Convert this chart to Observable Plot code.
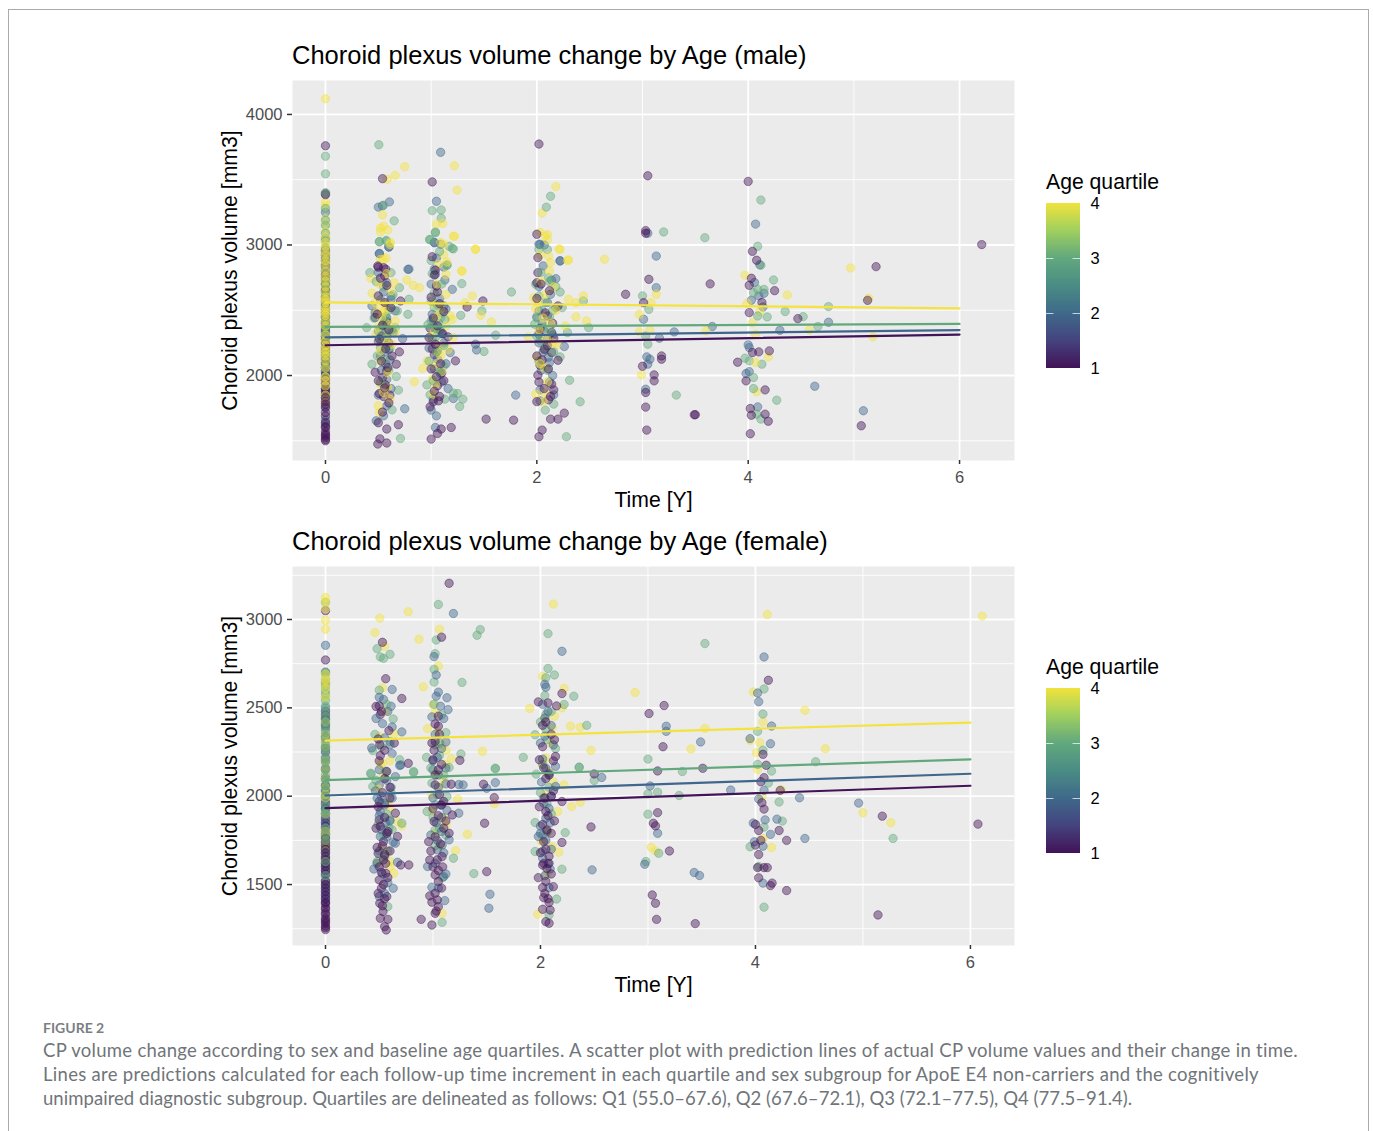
<!DOCTYPE html>
<html><head><meta charset="utf-8">
<script src="https://cdn.jsdelivr.net/npm/d3@7"></script>
<script src="https://cdn.jsdelivr.net/npm/@observablehq/plot@0.6"></script>
<style>
html,body{margin:0;padding:0;background:#fff;width:1373px;height:1131px;overflow:hidden;position:relative}
#border{position:absolute;left:8px;top:9px;width:1361px;height:1140px;border:1.5px solid #ababab;box-sizing:border-box}
.abs{position:absolute}
.title{font:25.5px "Liberation Sans",sans-serif;color:#000;left:292px;white-space:nowrap}
.ltitle{font:21.2px "Liberation Sans",sans-serif;color:#000;left:1046px;white-space:nowrap}
#cap{left:43px;top:1018px;width:1290px;font-family:Lato,sans-serif;color:#707579}
#cap .fig{font-size:14px;font-weight:700;line-height:20px;color:#7a7f83}
#cap .txt{font-size:18.5px;line-height:24px;white-space:nowrap;letter-spacing:.3px}
#cap .l3{letter-spacing:.05px}
svg text{font-family:"Liberation Sans",sans-serif}
</style></head><body>
<div id="border"></div>
<div id="root"></div>
<script>
// ---- male: baseline volumes (time 0) per age quartile
const maleBaseQ1=[3760,3395,3385,2960,2920,2880,2840,2800,2760,2730,2700,2660,2640,2600,2570,2540,2510,2480,2450,2413,2380,2350,2330,2300,2278,2250,2214,2190,2160,2120,2090,2060,2030,2000,1972,1940,1900,1880,1857,1830,1800,1780,1760,1717,1690,1640,1610,1600,1570,1551,1540,1526,1510,1500];
const maleBaseQ2=[3250,3050,2950,2900,2850,2775,2700,2650,2600,2550,2500,2450,2400,2350,2300,2240,2180,2140,2100,2060,2020,1960,1900,1830,1750,1660,1628];
const maleBaseQ3=[3680,3545,3400,3280,3190,3150,3090,3030,2980,2930,2880,2820,2750,2710,2690,2648,2610,2571,2530,2482,2440,2400,2367,2340,2316,2280,2210,2176,2160,2138,2099,2070,2040,1990,1920,1880,1850];
const maleBaseQ4=[4120,3330,3300,3200,3150,3100,3060,3020,2990,2950,2920,2880,2850,2800,2760,2724,2680,2640,2600,2580,2560,2520,2500,2482,2460,2420,2380,2310,2265,2230,2200,2176,2150,2112,2060,1990,1960,1920,1850,1793];
// ---- male: follow-up [time, volume]
const maleQ1=[[.54,3508],[.5,2830],[.57,2815],[.495,2839],[.55,2826],[.56,2762],[.71,2571],[.47,2444],[.58,2413],[.53,2300],[.6,2250],[.7,2181],[.67,2087],[.47,2025],[.54,1985],[.58,2036],[.565,1929],[.51,1862],[.55,1839],[.61,1850],[.5,1638],[.69,1623],[.58,1590],[.515,1515],[.495,1475],[.58,1483],
[.52,2745],[.58,2690],[.5,2610],[.56,2560],[.62,2520],[.49,2470],[.54,2385],[.6,2350],[.51,2280],[.57,2205],[.63,2150],[.53,2110],[.59,2060],[.5,1960],[.56,1905],[.6,1790],[.54,1720],
[1.01,3483],[1.01,2910],[1.04,2806],[1.05,2686],[1.06,2640],[1.49,2571],[1.34,2525],[.99,2362],[1.16,2296],[1.01,2204],[1.03,2160],[1.23,2112],[1.06,1921],[1.02,1799],[1.07,1806],[1.52,1666],[1.78,1658],[1.19,1602],[1.095,1590],[1.06,1556],[1,1513],[1.1,2020],
[1.03,2770],[1,2600],[1.08,2550],[1.12,2490],[1.02,2440],[1.06,2380],[1.11,2320],[.98,2290],[1.04,2240],[1.09,2090],[1,2050],[1.05,1990],[1.12,1960],[1.03,1880],[1.08,1840],[.99,1760],
[2.02,3773],[2,3082],[2.01,2903],[2.01,2788],[2,2711],[2.1,2456],[2.2,2533],[2.02,2316],[2.14,2329],[2.16,2286],[2.07,2201],[2.14,2176],[2.2,2117],[2.03,2079],[2.01,2003],[2.14,1934],[2.16,1890],[2.11,1814],[2.26,1712],[2.13,1666],[2.2,1666],[2.05,1582],[2.02,1531],
[2.04,2700],[2.12,2650],[2,2590],[2.08,2480],[2.15,2400],[2.03,2360],[2.1,2230],[2,2150],[2.05,2120],[2.11,2050],[2.02,1950],[2.07,1900],[2.13,1840],[2,1800],
[3.03,3090],[3.03,3110],[2.84,2622],[3.06,2737],[3.01,2558],[3.18,2150],[3.18,2125],[3,2071],[3.11,2005],[3.11,1959],[3.03,1870],[3.03,1758],[3.04,1582],[3.5,1700],[3.05,3530],
[4,3487],[4.04,2951],[4.08,2883],[5.21,2834],[6.21,3003],[3.64,2702],[4.03,2745],[4.01,2691],[4.25,2650],[5.13,2576],[4.13,2559],[4.01,2482],[4.47,2436],[4.2,2189],[4.04,2176],[4.1,2181],[3.9,2102],[3.98,1959],[4.16,1890],[3.49,1699],[4.02,1747],[4.03,1696],[4.16,1704],[4.19,1650],[4.02,1554],[5.07,1615]];
const maleQ2=[[.605,3330],[.5,3290],[.54,3300],[.51,2935],[.6,2985],[.79,2815],[.6,2984],[.51,2933],[.78,2813],[.58,2711],[.62,2609],[.44,2533],[.66,2495],[.73,2283],[.57,2087],[.58,1768],[.75,1745],[.55,1691],[.48,1653],[.55,2400],[.6,2200],[.52,2150],
[.5,2790],[.55,2640],[.62,2580],[.47,2480],[.58,2440],[.52,2360],[.64,2330],[.5,2260],[.56,2180],[.61,2120],[.53,2040],[.58,1970],[.62,1900],[.5,1850],
[1.09,3710],[1.05,3335],[1.03,3020],[1.09,3005],[1.03,2815],[1.03,3017],[1.04,2775],[1.13,2732],[1.2,2660],[1.12,2533],[1.01,2469],[1.18,2176],[1.42,2240],[1.43,2196],[1.06,2125],[1.09,2010],[1.21,1824],[1,1735],[1.05,1691],[1.04,1602],[1.08,2350],[1.02,2420],[1.12,2250],
[1.05,2900],[1.12,2830],[1,2700],[1.08,2590],[1.14,2510],[1.03,2370],[1.1,2320],[.98,2210],[1.06,2190],[1.14,2090],[1.03,2050],[1.1,1950],[1.16,1900],[1.02,1820],
[2.02,3005],[2.07,3000],[2.22,2880],[2.03,3005],[2.22,2877],[2.18,2742],[2.02,2495],[2.13,2622],[2.26,2222],[1.8,1850],[2.03,1806],[2.16,1852],[2.12,2099],[2.05,2400],[2.1,2280],[2.06,2180],[2.15,2000],
[2.06,2840],[2.14,2730],[2.02,2680],[2.1,2560],[2.18,2520],[2,2450],[2.07,2340],[2.15,2310],[2.02,2250],[2.11,2140],[2.04,2040],[2.12,1950],[2.03,1890],
[3.05,3090],[3.13,2915],[3.13,2673],[3.01,2431],[3.3,2334],[3.16,2286],[3.04,2143],[3.07,2125],[3.05,2087],[3.03,1895],
[4.07,3160],[4.11,2849],[4.06,2712],[4.15,2630],[4.1,2610],[4.03,2577],[4.14,2525],[3.66,2375],[4.3,2347],[4.76,2408],[4,2235],[4.01,2214],[4.01,2030],[3.98,2015],[4.63,1918],[4.09,1760],[5.09,1730]];
const maleQ3=[[.505,3768],[.55,3305],[.65,3185],[.51,3025],[.575,3030],[.51,3025],[.575,3035],[.42,2788],[.62,2788],[.7,2673],[.79,2584],[.78,2469],[.68,2495],[.39,2367],[.66,2367],[.55,2390],[.6,2500],[.52,2214],[.44,2087],[.67,1992],[.69,1888],[.63,1737],[.71,1518],[.55,2316],[.58,2227],[.57,2450],[.6,2340],
[.48,2720],[.55,2680],[.64,2620],[.52,2580],[.6,2530],[.46,2440],[.56,2420],[.63,2350],[.5,2340],[.58,2300],[.53,2260],[.61,2210],[.49,2150],[.57,2120],[.6,2040],[.52,1950],
[1.095,3268],[1.01,3263],[1.095,3205],[1.04,3100],[.985,3040],[1.17,2990],[1.21,2970],[1,2880],[1.15,2845],[.99,3043],[1.04,3094],[1.2,2974],[1.15,2847],[1.29,2704],[1.03,2635],[1.09,2444],[1.28,2461],[1.48,2495],[1.5,2184],[1.61,2309],[1.12,2074],[.96,1928],[1.21,1865],[1.25,1862],[1.3,1819],[.99,1852],[1.13,1819],[1.27,1763],[1.76,2640],[1.03,2520],[1.07,2400],[1,2420],[1.05,2300],[1.1,2480],
[1.08,2950],[1.01,2780],[1.1,2700],[1,2570],[1.06,2540],[1.13,2430],[.97,2390],[1.04,2360],[1.09,2340],[1.01,2280],[1.12,2230],[1.05,2180],[.98,2110],[1.08,2030],[1.02,1960],
[2.13,3373],[2.09,3290],[2.1,2965],[2.02,2965],[2.11,2750],[2.22,2640],[1.99,2699],[2.44,2571],[2.49,2367],[2.29,2329],[2.24,2520],[1.98,2393],[2.08,2201],[2.22,2143],[2.31,1964],[2.41,1799],[2.16,1781],[2.08,1735],[2.28,1531],[2.05,2500],[2.12,2450],[2,2300],
[2.04,2790],[2.12,2720],[2.18,2680],[2.02,2610],[2.08,2560],[2.15,2500],[2,2440],[2.06,2370],[2.13,2340],[2.03,2270],[2.09,2240],[2.16,2180],[2.02,2110],[2.1,2040],
[3.2,3100],[3,2610],[3.06,2507],[3.03,2303],[3.05,2240],[3.32,1850],
[3.59,3056],[4.12,3344],[4.09,2990],[4.12,2844],[4.24,2732],[4.15,2660],[4.09,2660],[4.05,2635],[4.76,2528],[4.35,2490],[4.52,2451],[4.18,2449],[4.09,2456],[4.66,2375],[3.97,2133],[4.01,2112],[4.13,2087],[4.05,1985],[4.05,1900],[4.27,1811],[4.08,1704],[4.12,1666]];
const maleQ4=[[.584,3503],[.66,3533],[.75,3600],[.54,3230],[.52,3130],[.55,3145],[.59,3115],[.615,3020],[.52,2890],[.575,2900],[.52,3100],[.61,3005],[.55,2890],[.65,2711],[.77,2732],[.83,2691],[.89,2673],[.44,2630],[.43,2744],[.49,2495],[.55,2482],[.66,2418],[.48,2316],[.52,2112],[.92,2054],[.84,1952],[.52,1934],[.59,1908],[.5,1768],[.51,1717],[.66,2329],[.55,2550],
[.58,2780],[.51,2700],[.62,2650],[.47,2560],[.56,2500],[.53,2440],[.6,2390],[.5,2370],[.57,2280],[.63,2240],[.52,2190],[.59,2020],[.55,1870],[.61,1820],
[1.22,3607],[1.245,3420],[1.05,3160],[1.11,3165],[1.22,3065],[1.09,3020],[1.42,2970],[1.12,2925],[1.29,2800],[1.12,3005],[1.07,2852],[1.21,3068],[1.42,2966],[1.29,2801],[1.14,2775],[1.39,2610],[1.32,2558],[1.47,2461],[1.18,2456],[1.57,2410],[1.03,2342],[1.21,2291],[.96,2112],[1.01,1972],[1.02,1857],[1.07,2176],[1.09,2150],
[1.15,2870],[1.06,2700],[1.14,2620],[1.02,2550],[1.09,2510],[1.2,2430],[1.05,2450],[1.14,2380],[1,2300],[1.08,2230],[1.16,2200],[1.03,2080],[1.1,2030],[1.04,1930],
[2.18,3447],[2.05,3245],[2.03,3097],[2.1,3080],[2.1,3040],[2.21,2970],[2.03,2925],[2.13,2865],[2.3,2885],[2.64,2890],[2.22,2966],[2.29,2882],[2.08,3068],[2.11,2915],[2.44,2610],[2.37,2558],[2.37,2449],[2.47,2418],[2.3,2584],[2.27,2380],[1.92,2296],[1.97,2597],[1.99,2507],[2.19,2235],[2.07,2061],[1.99,1857],[2.08,1865],[2,2138],
[2.12,2800],[2.04,2720],[2.16,2680],[2.08,2620],[2.01,2560],[2.18,2500],[2.06,2440],[2.13,2400],[2.02,2350],[2.09,2290],[2.15,2250],[2.03,2090],[2.1,1950],[2.06,1800],
[3.13,2622],[3.08,2558],[2.97,2469],[2.97,2334],[3.07,2347],[2.99,2005],
[3.97,2768],[4.97,2824],[4.37,2617],[5.14,2592],[3.99,2553],[4.11,2490],[4.04,2405],[3.6,2342],[4.07,2316],[4.58,2349],[5.18,2296],[4.19,2143],[4.07,2100],[4.08,1875]];
// ---- female: baseline volumes
const femaleBaseQ1=[3050,2771,2481,2460,2437,2400,2340,2280,2250,2200,2150,2100,2060,2030,2000,1960,1930,1900,1870,1850,1830,1800,1780,1760,1740,1720,1700,1680,1660,1640,1620,1600,1580,1560,1520,1500,1480,1460,1440,1420,1400,1390,1370,1360,1340,1330,1310,1300,1290,1280,1265,1255,1245];
const femaleBaseQ2=[2854,2703,2640,2500,2440,2410,2380,2320,2273,2220,2159,2100,2060,2040,1980,1950,1930,1900,1880,1850,1820,1790,1770,1740,1720,1700,1680,1650,1620,1600,1580,1550,1520,1500,1480,1460,1440,1420,1400];
const femaleBaseQ3=[3097,2700,2690,2660,2640,2620,2600,2580,2560,2540,2510,2480,2450,2420,2390,2360,2330,2300,2270,2250,2210,2190,2150,2120,2090,2060,2030,2000,1950,1920,1900,1820,1780,1750,1630,1550];
const femaleBaseQ4=[3125,3100,3060,2996,2945,2690,2660,2640,2610,2560,2420,2350,2320,2280,2200,2150,2100,2050,2010,1990,1900,1800,1780,1740,1720,1690,1650,1620,1500];
// ---- female: follow-up [time, volume]
const femaleQ1=[[.53,2871],[.56,2665],[.71,2553],[.5,2511],[.47,2508],[.51,2462],[.49,2324],[.505,2292],[.64,2301],[.59,2371],[.77,2186],[.51,2230],[.5,1970],[.65,1904],[.5,1866],[.47,1819],[.67,1772],[.54,1743],[.49,1677],[.7,1611],[.775,1611],[.54,1639],[.56,1564],[.5,1526],[.52,1479],[.57,1432],[.505,1394],[.535,1347],[.51,1309],[.58,1303],[.55,1262],[.565,1243],[.55,2100],[.6,2050],[.58,1800],
[.52,2480],[.55,2260],[.5,2200],[.57,2140],[.53,2020],[.6,1990],[.49,1940],[.55,1880],[.51,1830],[.57,1790],[.53,1720],[.48,1710],[.6,1690],[.55,1670],[.5,1600],[.56,1620],[.52,1570],[.58,1540],[.54,1500],[.49,1450],[.55,1420],[.53,1380],
[1.15,3205],[1.08,2900],[1.05,2453],[1.02,2409],[1.05,2396],[.99,2301],[1.02,2310],[1,2206],[1.25,2203],[1.02,2064],[1.17,2068],[1.47,2068],[1.57,1992],[1.18,1894],[1.48,1847],[1.1,1819],[1.15,1790],[.96,1743],[1.01,1857],[1.085,1658],[.97,1639],[1.02,1554],[1.05,1517],[1.5,1573],[1.02,1451],[.97,1436],[1.04,1413],[1.05,1375],[1.02,1337],[.99,1271],[.89,1303],[1.05,2150],[1.08,1950],
[1.06,2350],[1.01,2260],[1.08,2180],[1.02,2120],[1.06,2010],[1.1,1970],[1,1930],[1.05,1890],[1.12,1860],[1.02,1770],[1.07,1730],[.98,1690],[1.04,1640],[1.09,1600],[1,1600],[1.05,1580],[1.08,1480],[.99,1400],[1.03,1350],
[1.98,2534],[2.07,2528],[2.15,2511],[2.2,2581],[2.02,2401],[2.14,2225],[2.13,2320],[1.99,2206],[2.2,1970],[2.05,1913],[2.13,1860],[2.06,1809],[2.03,1743],[2.2,1738],[2.03,1620],[2.08,1620],[1.98,1539],[2.05,1517],[2.02,1483],[2.12,1488],[2.03,1426],[2.08,1398],[2.02,1360],[2.09,1356],[2.05,1290],[2.08,1281],[2.05,2100],[2.1,2000],[2.5,2126],[2.47,1826],
[2.05,2420],[2.1,2350],[2.02,2280],[2.12,2200],[2.03,2160],[2.08,2120],[2.12,2030],[2.04,1990],[1.99,1940],[2.07,1890],[2.02,1840],[2.1,1790],[2.05,1700],[2,1680],[2.08,1660],[2.02,1610],[2.06,1590],[2.1,1560],[2.04,1450],[2.07,1420],
[3.15,2513],[3.01,2468],[3.14,2280],[3.09,2143],[3.09,1907],[3.05,1847],[3.07,1832],[3.2,1690],[3.04,1441],[3.07,1394],[3.08,1303],[3.44,1279],[3.51,2158],
[4.12,2656],[5.18,1887],[6.07,1842],[5.14,1328],[4.1,2175],[4.07,2237],[4.05,2082],[4.08,2105],[4.23,2033],[4.06,1963],[4.08,1927],[4,1840],[4.03,1806],[4.22,1806],[4,1723],[4.05,1750],[4.29,1750],[4.03,1670],[4.02,1596],[4.08,1596],[4.11,1596],[4.03,1538],[4.14,1494],[4.155,1508],[4.29,1466]];
const femaleQ2=[[.62,2604],[.54,2547],[.61,2509],[.53,2411],[.62,2392],[.71,2364],[.43,2273],[.62,2241],[.69,2174],[.5,2064],[.7,2177],[.65,2111],[.465,2030],[.65,1734],[.45,1588],[.67,1626],[.63,1479],[.5,1432],[.62,1989],[.51,1913],[.51,1772],[.55,1950],[.56,1850],[.52,2000],
[.5,2560],[.58,2480],[.47,2440],[.55,2330],[.6,2290],[.5,2150],[.57,2090],[.61,2050],[.48,1990],[.55,1960],[.5,1890],[.6,1860],[.52,1810],[.57,1770],[.63,1740],[.5,1690],[.55,1660],[.48,1620],[.53,1560],[.58,1510],[.55,1450],
[1.19,3034],[1.01,2790],[1.03,2686],[1.05,2589],[1.03,2566],[1.13,2557],[1.07,2509],[.99,2449],[1.14,2490],[1.12,2307],[1,2150],[1.12,2159],[1.28,2064],[1.24,2066],[1.5,2045],[1.58,2077],[1.24,1904],[.95,1602],[.99,1485],[1.11,1409],[1.53,1445],[1.52,1366],[1.1,1545],[1.085,1724],[1.04,1696],[1.15,1753],[1.05,2050],[1.08,1880],[1.04,2220],
[1.1,2440],[1.02,2350],[1.08,2270],[1,2200],[1.05,2120],[1.12,2070],[1,1990],[1.07,1950],[1.13,1920],[1.03,1850],[1.08,1800],[.98,1780],[1.04,1750],[1.1,1680],[1.02,1620],[1.12,1560],[1.05,1480],
[2.2,2820],[2.04,2633],[2.05,2617],[2.04,2443],[2,2301],[2.05,2159],[2.14,2169],[2.57,2106],[2.14,2055],[1.98,1772],[2.48,1583],[2.08,1483],[2.09,1588],[2.02,1649],[2.05,1875],[2.03,1990],[2.08,1930],[2.06,1800],[2,1830],
[2.02,2520],[2.07,2480],[2.1,2400],[2.04,2340],[2.12,2290],[2.02,2210],[2.08,2130],[2.01,2080],[2.1,2000],[2.03,1960],[2.09,1850],[2,1790],[2.05,1750],[2.1,1700],[2.02,1690],[2.07,1620],[2.04,1550],
[3.17,2396],[3.17,2367],[3.49,2307],[3.02,2058],[3.09,1790],[2.97,1615],[3.43,1568],[3.48,1551],
[4.08,2788],[4.02,2584],[4.03,2535],[4.15,2397],[3.95,2326],[4.14,2297],[3.77,2035],[4.08,2033],[4.03,1984],[4.41,1991],[4.96,1961],[3.98,1848],[4.09,1866],[4.2,1870],[4.46,1761],[4.14,1784],[3.99,1742],[4.07,1717],[4.07,1508]];
const femaleQ3=[[.48,2835],[.51,2788],[.54,2780],[.6,2803],[.63,2437],[.44,2258],[.69,2206],[.42,2130],[.82,2140],[.425,2125],[.82,2134],[.44,2055],[.71,1847],[.59,1819],[.48,1630],[.58,1375],[.6,1866],
[.5,2600],[.57,2520],[.46,2350],[.6,2310],[.52,2280],[.56,2140],[.47,2090],[.61,2020],[.52,1960],[.57,1900],[.49,1840],[.62,1810],[.54,1780],[.58,1690],
[1.05,3085],[1.44,2943],[1.41,2911],[1.03,2884],[1.02,2807],[1.01,2718],[1.01,2646],[1.27,2644],[.94,2220],[1.26,2239],[1.58,2159],[1.58,2155],[1.15,2162],[.945,1913],[.99,2074],[1.09,1539],[1.085,1286],[1.19,1649],[1.38,1562],[1.02,1809],[1.02,1951],[1.13,1998],[1.06,2300],
[1.01,2520],[1.08,2460],[1.12,2360],[1.02,2290],[1.06,2230],[.98,2160],[1.1,2120],[1.04,2010],[1.09,1960],[1,1880],[1.06,1820],[1.12,1780],[1.02,1720],
[2.07,2920],[2.07,2723],[2.13,2686],[2.05,2670],[2.31,2566],[2.22,2519],[2.43,2401],[1.95,2348],[2.05,2462],[1.84,2220],[2.36,2165],[2.36,2162],[1.96,2125],[2.5,2089],[1.95,1851],[2.23,1794],[1.95,1687],[2.2,1587],[2.15,1418],[2.08,1328],[2.05,2380],[2.08,2050],
[2.04,2570],[2.1,2480],[2,2420],[2.06,2320],[2.14,2270],[2.02,2180],[2.08,2120],[2,2020],[2.06,1960],[2.1,1900],[2.02,1780],
[3,2210],[3.32,2140],[3.29,2004],[3,2013],[3.09,2023],[3,1898],[2.98,1630],[3.1,1677],
[3.53,2864],[4.08,2607],[4.07,2465],[4.02,2367],[4.07,2260],[4.56,2195],[4.02,2180],[4.15,2142],[4.12,2074],[4.22,1967],[4.25,1859],[4.08,1825],[3.95,1714],[5.28,1761],[4.03,1602],[4.08,1372]];
const femaleQ4=[[.505,3008],[.77,3044],[.46,2926],[.87,2888],[.55,2847],[.91,2619],[.53,2614],[.64,2354],[.51,2178],[.67,1856],[.71,1832],[.6,1630],[.5,1630],[.635,1564],[.6,1932],[.53,2187],
[.56,2480],[.5,2340],[.6,2200],[.54,2120],[.49,2040],[.58,1960],[.52,1700],[.56,1670],[.6,1600],
[1.06,2945],[1.05,2737],[1,2517],[.95,2383],[1.04,2367],[1.46,2254],[1.12,2259],[1.17,2212],[1.23,1983],[1.57,1957],[.99,2008],[.99,1917],[1.1,1875],[1.32,1785],[1.21,1692],[1.085,1337],[1.1,2102],
[1.02,2470],[1.08,2290],[1.12,2180],[1.03,2130],[1.07,2060],[1.12,1840],[1.02,1790],[1.06,1720],
[2.12,3087],[1.9,2496],[2.02,2678],[2.22,2610],[2.13,2453],[2.2,2500],[2.28,2396],[2.37,2390],[2.11,2386],[2.47,2259],[2.88,2587],[2.05,2216],[2.22,2064],[2.29,1941],[2.37,1966],[2.16,1913],[2.01,1743],[2.11,1715],[2.17,1683],[2.06,1558],[1.975,1332],
[2.04,2440],[2.1,2300],[2.02,2180],[2.08,2140],[2.12,2080],[2.03,2010],[2.07,1800],
[3.4,2267],[3.03,1711],[3.07,1690],
[4.11,3028],[6.11,3019],[3.98,2590],[4.46,2486],[4.07,2420],[3.53,2384],[4.65,2269],[4.04,2303],[3.95,2316],[4.01,2246],[4.02,2152],[4.24,2035],[4.06,2000],[5,1906],[5.26,1850],[4.07,1759],[4.15,1710]];
// ---- prediction lines
const lineTimes=[0,6];
const maleLines={1:[2232,2314],2:[2292,2348],3:[2372,2395],4:[2561,2515]};
const femaleLines={1:[1932,2059],2:[2004,2127],3:[2091,2208],4:[2314,2416]};
// ---- styling values
const quartiles=[1,2,3,4];
const quartileColors=["#421357","#3f668c","#62a87d","#f3e33c"];
const rampStops=[1,1.5,2,2.5,3,3.5,4];
const rampColors=["#421357","#44447f","#3f6a8a","#4a8d84","#62a87d","#a0d05e","#f3e33c"];

function table(bases,follow){
  const lists=quartiles.map((q,i)=>[...bases[i].map(v=>({t:0,v,q})),...follow[i].map(([t,v])=>({t,v,q}))]);
  // interleave the quartiles so that no colour sits entirely on top
  const out=[];const n=d3.max(lists,l=>l.length);
  for(let k=0;k<n;k++)for(const l of lists)if(k<l.length)out.push(l[k]);
  return out;
}
const intFmt=d3.format("d");
function panel(cfg){
  const lines=quartiles.flatMap(q=>lineTimes.map((t,i)=>({t,v:cfg.lines[q][i],q})));
  const p=Plot.plot({
    width:1040,height:cfg.h+70,marginLeft:292,marginRight:26,marginTop:10,marginBottom:60,
    style:{background:"transparent",overflow:"visible"},
    x:{domain:cfg.xd,label:null,axis:null},
    y:{domain:cfg.yd,label:null,axis:null},
    color:{type:"ordinal",domain:quartiles,range:quartileColors},
    marks:[
      Plot.frame({fill:"#ebebeb",stroke:null}),
      Plot.ruleX(cfg.xMinor,{stroke:"#fff",strokeWidth:0.9}),
      Plot.ruleY(cfg.yMinor,{stroke:"#fff",strokeWidth:0.9}),
      Plot.ruleX(cfg.xMajor,{stroke:"#fff",strokeWidth:1.8}),
      Plot.ruleY(cfg.yMajor,{stroke:"#fff",strokeWidth:1.8}),
      Plot.dot(cfg.data,{x:"t",y:"v",r:4.2,fill:"q",stroke:"q",strokeWidth:1,fillOpacity:.45,strokeOpacity:.45}),
      Plot.line(lines,{x:"t",y:"v",z:"q",stroke:"q",strokeWidth:2.2,strokeOpacity:1}),
      Plot.axisX({ticks:cfg.xMajor,tickFormat:intFmt,label:"Time [Y]",labelAnchor:"center",labelArrow:"none",labelOffset:46,tickSize:4,tickPadding:7,fontSize:16.5,color:"#4d4d4d",stroke:"#333",strokeWidth:1.5}),
      Plot.axisY({ticks:cfg.yMajor,tickFormat:intFmt,label:"Choroid plexus volume [mm3]",labelAnchor:"center",labelArrow:"none",labelOffset:71,tickSize:5,tickPadding:5,fontSize:16.5,color:"#4d4d4d",stroke:"#333",strokeWidth:1.5})
    ]
  });
  p.querySelectorAll('[aria-label="x-axis label"] text,[aria-label="y-axis label"] text').forEach(t=>{t.setAttribute("fill","#000");t.style.fontSize="21.2px"});
  return p;
}
function legend(){
  const steps=d3.range(1,4,0.02);
  const tickEdges=[[0,.22],[.78,1]];
  return Plot.plot({
    width:80,height:190,marginLeft:6,marginRight:40,marginTop:13,marginBottom:12,
    style:{background:"transparent",overflow:"visible"},
    x:{domain:[0,1],axis:null},
    y:{domain:[1,4],axis:null},
    color:{type:"linear",domain:rampStops,range:rampColors,interpolate:"rgb"},
    marks:[
      Plot.rect(steps,{x1:0,x2:1,y1:d=>d,y2:d=>Math.min(4,d+0.05),fill:d=>d,shapeRendering:"crispEdges"}),
      ...tickEdges.map(([a,b])=>Plot.ruleY([2,3],{x1:a,x2:b,stroke:"#fff",strokeOpacity:.7,strokeWidth:1})),
      Plot.axisY({anchor:"right",ticks:quartiles,tickFormat:intFmt,tickSize:0,tickPadding:10,label:null,fontSize:16.5,color:"#000"})
    ]
  });
}
const root=document.getElementById("root");
function place(el,left,top){el.style.position="absolute";el.style.left=left+"px";el.style.top=top+"px";root.appendChild(el);return el}
function text(cls,top,s){const d=document.createElement("div");d.className="abs "+cls;d.style.top=top+"px";d.textContent=s;root.appendChild(d)}
const cfgs=[
 {top:70,h:380,xd:[-0.312,6.52],yd:[1349,4260],xMajor:[0,2,4,6],xMinor:[1,3,5],yMajor:[2000,3000,4000],yMinor:[1500,2500,3500],lines:maleLines,data:table([maleBaseQ1,maleBaseQ2,maleBaseQ3,maleBaseQ4],[maleQ1,maleQ2,maleQ3,maleQ4]),title:"Choroid plexus volume change by Age (male)",tt:41,lt:170,lg:190},
 {top:556,h:379,xd:[-0.307,6.41],yd:[1155,3300],xMajor:[0,2,4,6],xMinor:[1,3,5],yMajor:[1500,2000,2500,3000],yMinor:[1250,1750,2250,2750,3250],lines:femaleLines,data:table([femaleBaseQ1,femaleBaseQ2,femaleBaseQ3,femaleBaseQ4],[femaleQ1,femaleQ2,femaleQ3,femaleQ4]),title:"Choroid plexus volume change by Age (female)",tt:527,lt:655,lg:675}
];
for(const c of cfgs){
  place(panel(c),0,c.top);
  text("title",c.tt,c.title);
  text("ltitle",c.lt,"Age quartile");
  place(legend(),1040,c.lg);
}
const cap=document.createElement("div");cap.id="cap";cap.className="abs";
cap.innerHTML='<div class="fig">FIGURE 2</div><div class="txt">CP volume change according to sex and baseline age quartiles. A scatter plot with prediction lines of actual CP volume values and their change in time.<br>Lines are predictions calculated for each follow-up time increment in each quartile and sex subgroup for ApoE E4 non-carriers and the cognitively<br><span class="l3">unimpaired diagnostic subgroup. Quartiles are delineated as follows: Q1 (55.0–67.6), Q2 (67.6–72.1), Q3 (72.1–77.5), Q4 (77.5–91.4).</span></div>';
root.appendChild(cap);
</script>
</body></html>
